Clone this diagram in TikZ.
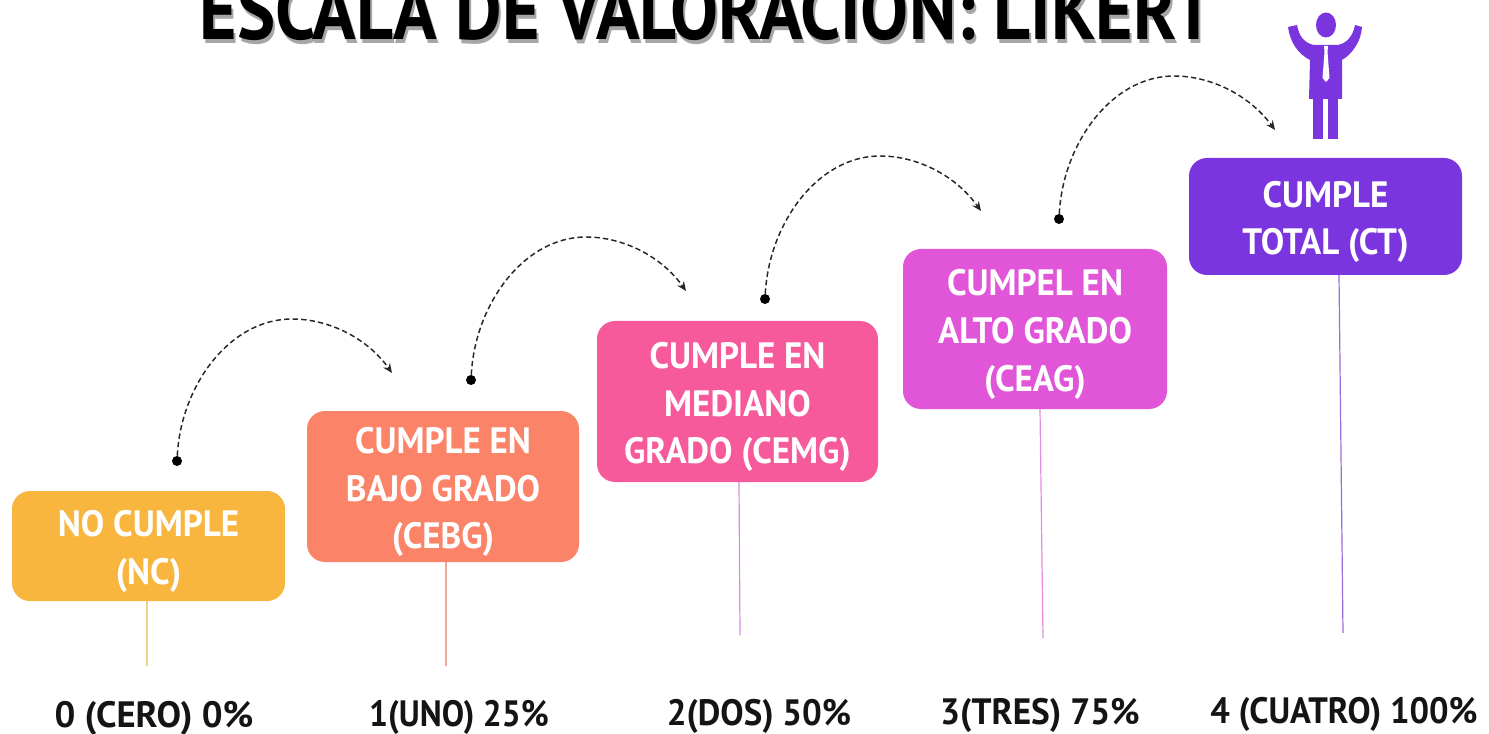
\documentclass[tikz,border=0pt]{standalone}
\usepackage{fontspec}
\setmainfont{PT Sans}
\usetikzlibrary{arrows.meta}
\definecolor{cA}{HTML}{F8B63F}
\definecolor{cB}{HTML}{FB8468}
\definecolor{cC}{HTML}{F75A9B}
\definecolor{cD}{HTML}{E156D8}
\definecolor{cE}{HTML}{7B35DE}
\definecolor{lA}{HTML}{F2D28C}
\definecolor{lB}{HTML}{F0A795}
\definecolor{lC}{HTML}{D98BE0}
\definecolor{lD}{HTML}{E58BE0}
\definecolor{lE}{HTML}{9A6BE0}
\tikzset{
  x=0.75pt,y=-0.75pt,
  levelbox/.style={inner sep=0pt,text=white,align=center,transform shape,xscale=.955,
    font=\fontsize{27.5}{35.7}\selectfont\bfseries},
  score/.style={transform shape,font=\fontsize{27.5}{30}\selectfont\bfseries,text=black!92,inner sep=0pt},
  headline/.style={transform shape,xscale=.87,inner sep=0pt,font=\fontsize{62}{62}\selectfont\bfseries,anchor=base},
  stem/.style={line width=0.9pt},
  hop/.style={dash pattern=on 4pt off 2.4pt,line width=1.1pt,black!85,-{Stealth[length=7pt,width=6pt]}},
  pin/.style={circle,fill=black,inner sep=0pt,minimum size=7.5pt},
}
\newcommand{\lvl}[7]{% name, x0,y0,x1,y1, colour, text
  \fill[#6,rounded corners=13.5pt] (#2,#3) rectangle (#4,#5);
  \node[levelbox] (#1) at ({(#2+#4)/2},{(#3+#5)/2+5.5}) {#7};
}
\begin{document}
\begin{tikzpicture}
\useasboundingbox (0,0) rectangle (1489,734);
\fill[white] (0,0) rectangle (1489,734);
% title
\node[headline,text=black!35] (titleshadow) at (709,44) {ESCALA DE VALORACION: LIKERT};
\node[headline,text=black] (title) at (707,40) {ESCALA DE VALORACION: LIKERT};
% stems
\coordinate (sa) at (147,666);
\coordinate (sb) at (446,666);
\coordinate (sc) at (740,635);
\coordinate (sd) at (1043,638);
\coordinate (se) at (1343,633);
% boxes
\lvl{boxA}{12}{491}{285}{601}{cA}{NO CUMPLE\\(NC)}
\lvl{boxB}{307}{411}{579}{562}{cB}{CUMPLE EN\\BAJO GRADO\\(CEBG)}
\lvl{boxC}{597}{321}{878}{482}{cC}{CUMPLE EN\\MEDIANO\\GRADO (CEMG)}
\lvl{boxD}{903}{249}{1167}{409}{cD}{CUMPEL EN\\ALTO GRADO\\(CEAG)}
\lvl{boxE}{1189}{158}{1462}{275}{cE}{CUMPLE\\TOTAL (CT)}
\draw[stem,lA] (147,601) -- (sa);
\draw[stem,lB] (446,562) -- (sb);
\draw[stem,lC] (739,482) -- (sc);
\draw[stem,lD] (1040,409) -- (sd);
\draw[stem,lE] (1339,275) -- (se);
% scores
\node[score] (s0) at (154,718.5) {0 (CERO) 0\%};
\node[score,xscale=.91] (s1) at (459,717.5) {1(UNO) 25\%};
\node[score,xscale=.95] (s2) at (759,716) {2(DOS) 50\%};
\node[score,xscale=.96] (s3) at (1040,715) {3(TRES) 75\%};
\node[score,xscale=.94] (s4) at (1344,714) {4 (CUATRO) 100\%};
% hops
\node[pin] (p0) at (177,461) {};
\node[pin] (p1) at (471,380) {};
\node[pin] (p2) at (765,299) {};
\node[pin] (p3) at (1059,219) {};
\coordinate (t0) at (392,373);
\coordinate (t1) at (686,291);
\coordinate (t2) at (981,211);
\coordinate (t3) at (1275,130);
\draw[hop] (p0) .. controls (181,385) and (230,319) .. (292,319) .. controls (330,319) and (368,339) .. (t0);
\draw[hop] (p1) .. controls (475,304) and (524,237) .. (586,237) .. controls (624,237) and (662,257) .. (t1);
\draw[hop] (p2) .. controls (769,223) and (818,156) .. (880,156) .. controls (918,156) and (956,176) .. (t2);
\draw[hop] (p3) .. controls (1063,143) and (1112,76) .. (1174,76) .. controls (1212,76) and (1250,96) .. (t3);
% person
\fill[cE] (1326,25) ellipse (10 and 12.5);
\fill[cE] (1288,27) -- (1297,25) .. controls (1299,36) and (1304,43) .. (1314,45) -- (1338,45)
  .. controls (1347,43) and (1353,36) .. (1355,25) -- (1362,27)
  .. controls (1361,42) and (1352,54) .. (1342,60) -- (1342,99) -- (1309,99) -- (1310,60)
  .. controls (1298,54) and (1290,42) .. (1288,27) -- cycle;
\fill[cE] (1313,99) rectangle (1323,139);
\fill[cE] (1328,99) rectangle (1338,139);
\fill[white] (1324,46) -- (1328,46) -- (1327.5,52) -- (1329.5,78) -- (1326,82) -- (1322.5,78) -- (1324.5,52) -- cycle;
\end{tikzpicture}
\end{document}
